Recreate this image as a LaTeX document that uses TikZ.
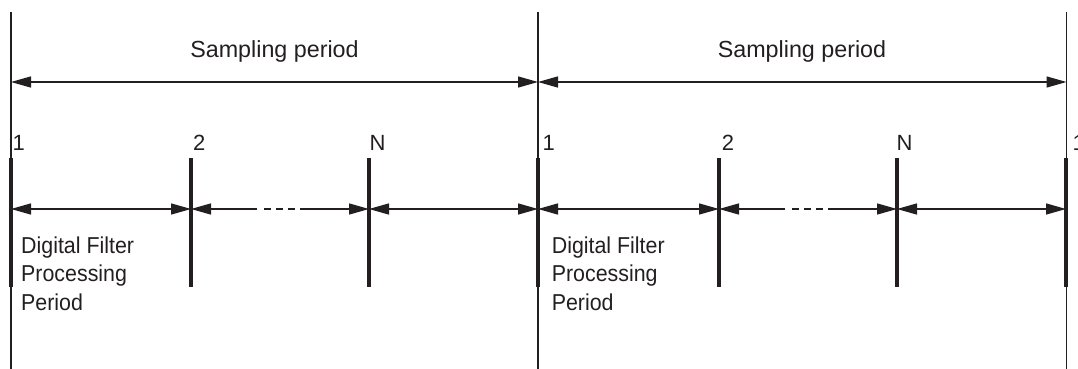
\documentclass[tikz,border=0pt]{standalone}
\usepackage{fontspec}
\setmainfont{Liberation Sans}
\newfontfamily\lblfont[FakeStretch=0.93]{Liberation Sans}
\usetikzlibrary{arrows.meta}
\definecolor{ink}{RGB}{35,31,32}
\begin{document}
\begin{tikzpicture}[x=1pt,y=-1pt,
  thinline/.style={line width=1.3pt, draw=ink},
  tickline/.style={line width=3.8pt, draw=ink},
  dimarrow/.style={line width=1.4pt, draw=ink, {Triangle[length=20pt,width=11pt]}-{Triangle[length=20pt,width=11pt]}},
  larrow/.style={line width=1.4pt, draw=ink, {Triangle[length=20pt,width=11pt]}-},
  rarrow/.style={line width=1.4pt, draw=ink, -{Triangle[length=20pt,width=11pt]}},
  dots/.style={line width=1.4pt, draw=ink, dash pattern=on 7pt off 5pt},
  toplabel/.style={text=ink, inner sep=0pt, anchor=base, font=\fontsize{23.3}{28}\selectfont},
  numlabel/.style={text=ink, inner sep=0pt, anchor=base west, font=\fontsize{22}{26}\selectfont},
  desclabel/.style={text=ink, inner sep=0pt, anchor=base west, font=\lblfont\fontsize{23}{28}\selectfont}
]
\useasboundingbox (0,0) rectangle (1078,369);

% thin vertical boundaries
\coordinate (v0t) at (11,12);   \coordinate (v0b) at (11,369);
\coordinate (v1t) at (538,12);  \coordinate (v1b) at (538,369);
\coordinate (v2t) at (1066.5,12); \coordinate (v2b) at (1066.5,369);
\draw[thinline] (v0t) -- (v0b);
\draw[thinline] (v1t) -- (v1b);
\draw[thinline] (v2t) -- (v2b);

% sampling period arrows
\coordinate (s0) at (11,82); \coordinate (s1) at (538,82); \coordinate (s2) at (1066.5,82);
\draw[dimarrow] (s0) -- (s1);
\draw[dimarrow] (s1) -- (s2);
\node[toplabel] (sp1) at (274.5,57.5) {Sampling period};
\node[toplabel] (sp2) at (802,57.5) {Sampling period};

% processing ticks (thick)
\foreach \n/\x in {a1/11, a2/191, aN/369, b1/538, b2/719, bN/897, c1/1066} {
  \coordinate (\n t) at (\x,158);
  \coordinate (\n m) at (\x,209);
  \coordinate (\n b) at (\x,287);
}
\foreach \n in {a1,a2,aN,b1,b2,bN,c1} {
  \draw[tickline] (\n t) -- (\n b);
}

% processing arrows
\draw[dimarrow] (a1m) -- (a2m);
\coordinate (ad1) at (257,209); \coordinate (ad2) at (300,209);
\coordinate (ad3) at (264,209); \coordinate (ad4) at (296,209);
\draw[larrow] (a2m) -- (ad1);
\draw[dots] (ad3) -- (ad4);
\draw[rarrow] (ad2) -- (aNm);
\draw[dimarrow] (aNm) -- (b1m);

\draw[dimarrow] (b1m) -- (b2m);
\coordinate (bd1) at (785,209); \coordinate (bd2) at (828,209);
\coordinate (bd3) at (792,209); \coordinate (bd4) at (824,209);
\draw[larrow] (b2m) -- (bd1);
\draw[dots] (bd3) -- (bd4);
\draw[rarrow] (bd2) -- (bNm);
\draw[dimarrow] (bNm) -- (c1m);

% tick numbers
\node[numlabel] (n11) at (12.5,150) {1};
\node[numlabel] (n12) at (193,150) {2};
\node[numlabel] (n1N) at (369.3,150) {N};
\node[numlabel] (n21) at (542.5,150) {1};
\node[numlabel] (n22) at (721.7,150) {2};
\node[numlabel] (n2N) at (896.3,150) {N};
\node[numlabel] (n31) at (1072.5,150) {1};

% description text
\node[desclabel] (d1a) at (21,253.3) {Digital Filter};
\node[desclabel] (d1b) at (21,281.7) {Processing};
\node[desclabel] (d1c) at (21,310) {Period};
\node[desclabel] (d2a) at (551.6,253.3) {Digital Filter};
\node[desclabel] (d2b) at (551.6,281.7) {Processing};
\node[desclabel] (d2c) at (551.6,310) {Period};
\end{tikzpicture}
\end{document}
